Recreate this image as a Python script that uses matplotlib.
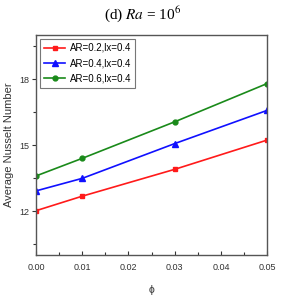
import matplotlib
matplotlib.use("Agg")
import matplotlib.pyplot as plt
from matplotlib.ticker import MultipleLocator

phi = [0.00, 0.01, 0.03, 0.05]
nu_ar02 = [12.02, 12.68, 13.90, 15.23]
nu_ar04 = [12.92, 13.49, 15.07, 16.58]
nu_ar06 = [13.60, 14.40, 16.06, 17.80]
labels = ["AR=0.2,lx=0.4", "AR=0.4,lx=0.4", "AR=0.6,lx=0.4"]

plt.rcParams['font.family'] = ['Liberation Sans', 'DejaVu Sans']
plt.rcParams['mathtext.fontset'] = 'stix'

fig = plt.figure(figsize=(2.86, 3.03), dpi=100)
ax = fig.add_axes([0.126, 0.158, 0.808, 0.726])

ax.plot(phi, nu_ar02, color='#ff1a1a', marker='s', ms=3.5, lw=1.2, label=labels[0])
ax.plot(phi, nu_ar04, color='#1010ff', marker='^', ms=3.8, lw=1.2, label=labels[1])
ax.plot(phi, nu_ar06, color='#1a8a1a', marker='o', ms=3.5, lw=1.2, label=labels[2])

ax.set_xlim(0, 0.05)
ax.set_ylim(10, 20)
ax.set_xticks([0, 0.01, 0.02, 0.03, 0.04, 0.05])
ax.set_xticklabels(["0.00", "0.01", "0.02", "0.03", "0.04", "0.05"])
ax.xaxis.set_minor_locator(MultipleLocator(0.005))
ax.set_yticks([12, 15, 18])
ax.yaxis.set_minor_locator(MultipleLocator(1.5))
ax.tick_params(which='both', labelsize=6.5, colors='#333333', width=0.8)
ax.tick_params(axis='x', which='both', direction='in', pad=6)
ax.tick_params(axis='y', which='both', direction='out', pad=2)
ax.tick_params(which='major', length=3)
ax.tick_params(which='minor', length=2)
for s in ax.spines.values():
    s.set_linewidth(1.0)
    s.set_color('#555555')

ax.set_ylabel("Average Nusselt Number", fontsize=8, color='#333333', labelpad=4)
ax.set_xlabel("ϕ", fontsize=7.5, color='#333333', labelpad=9)

leg = ax.legend(loc='upper left', fontsize=7, frameon=True, fancybox=False,
                edgecolor='#555555', handlelength=2.2, borderpad=0.4,
                labelspacing=0.55, handletextpad=0.5, borderaxespad=0.4)
leg.get_frame().set_linewidth(0.8)

fig.text(0.5, 0.955, r"(d) $\mathit{Ra}$ = 10$^6$", ha='center', va='center',
         fontsize=11, family='Liberation Serif')

fig.savefig("out.png", dpi=100)
